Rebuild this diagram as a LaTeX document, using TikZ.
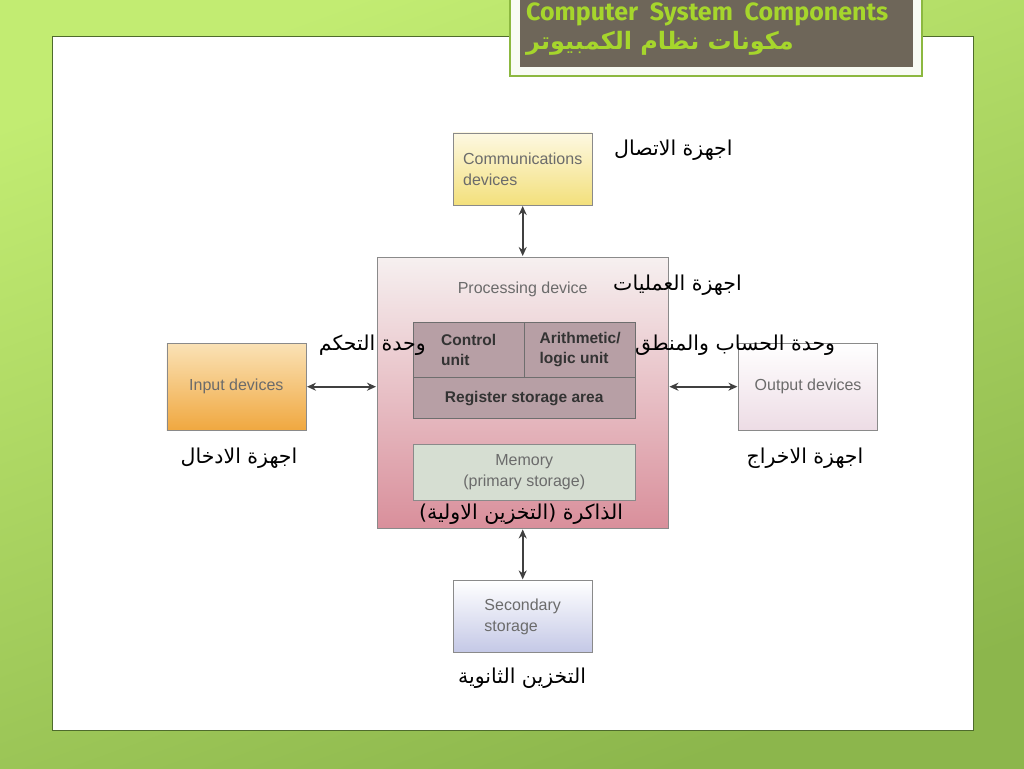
\documentclass[tikz,border=0pt]{standalone}
\usepackage{fontspec}
\setmainfont{Liberation Sans}
\newfontfamily\arabicfont[Script=Arabic]{DejaVu Sans}
\newfontfamily\titlefont{Fira Sans}
\TeXXeTstate=1
\usetikzlibrary{positioning,arrows.meta}
\definecolor{bggreenlight}{HTML}{C2EC72}
\definecolor{bggreendark}{HTML}{8CB64C}
\definecolor{panelline}{HTML}{4E6B2C}
\definecolor{titlebg}{HTML}{6E6659}
\definecolor{titletext}{HTML}{A6D62C}
\definecolor{titleframe}{HTML}{8CB840}
\definecolor{labelgray}{HTML}{6B6B6B}
\definecolor{boxline}{HTML}{8A8A8A}
\definecolor{mauve}{HTML}{B79FA5}
\definecolor{memfill}{HTML}{D6DED2}
\definecolor{commtop}{HTML}{FDF8E2}
\definecolor{commbottom}{HTML}{F3E07C}
\definecolor{intop}{HTML}{FAE2B6}
\definecolor{inbottom}{HTML}{F0A840}
\definecolor{outtop}{HTML}{FFFFFF}
\definecolor{outbottom}{HTML}{EDDCE5}
\definecolor{sectop}{HTML}{FFFFFF}
\definecolor{secbottom}{HTML}{C4C8E6}
\definecolor{proctop}{HTML}{F6F0F0}
\definecolor{procbottom}{HTML}{D98F9B}
\newcommand{\artext}[1]{{\arabicfont\beginR #1\endR}}
\tikzset{
  device/.style={draw=boxline,minimum width=139pt,minimum height=72pt,align=left,
    font=\fontsize{16}{21}\selectfont,text=labelgray,inner sep=0pt},
  unitbox/.style={draw=boxline!80!black,fill=mauve,align=left,
    font=\bfseries\fontsize{15.5}{20}\selectfont,text=black!80,inner sep=0pt},
  arlabel/.style={font=\fontsize{20.5}{24}\selectfont,inner sep=0pt},
  link/.style={{Stealth[length=9pt,width=8pt]}-{Stealth[length=9pt,width=8pt]},
    draw=black!75,line width=1.6pt,shorten >=1pt,shorten <=1pt}
}
\begin{document}
\begin{tikzpicture}[x=1pt,y=-1pt]
  \useasboundingbox (0,0) rectangle (1024,768);
  % slide background
  \shade[top color=bggreenlight,bottom color=bggreendark,shading angle=20] (0,0) rectangle (1024,768);
  \draw[panelline,fill=white,line width=1pt] (52,37) rectangle (973,730);
  % title
  \draw[titleframe,fill=white!94!titleframe,line width=1.2pt] (510,-2) rectangle (922,76);
  \fill[titlebg] (520,-2) rectangle (913,67);
  \node[anchor=west,inner sep=0pt,text=titletext,font=\titlefont\bfseries\fontsize{25}{27}\selectfont] (title) at (526,14) {Computer\ \ System\ \ Components};
  \node[anchor=west,inner sep=0pt,text=titletext,font=\arabicfont\bfseries\fontsize{24}{26}\selectfont] (titlear) at (526,43) {\artext{مكونات نظام الكمبيوتر}};
  % processing device
  \node[device,minimum width=291pt,minimum height=271pt,top color=proctop,bottom color=procbottom,anchor=north west] (proc) at (377,257) {};
  \node[below=25pt of proc.north,inner sep=0pt,text=labelgray,font=\fontsize{16}{20}\selectfont] (proctitle) {Processing device};
  \node[unitbox,minimum width=111pt,minimum height=55pt,anchor=north west] (cu) at (413,322) {Control\\unit};
  \node[unitbox,minimum width=111pt,minimum height=55pt,right=0pt of cu] (alu) {Arithmetic/\\logic unit};
  \node[unitbox,minimum width=222pt,minimum height=41pt,anchor=north west] (reg) at (cu.south west) {Register storage area};
  \node[device,fill=memfill,align=center,minimum width=222pt,minimum height=56pt,anchor=north west] (mem) at ([yshift=-25pt]reg.south west) {Memory\\(primary storage)};
  % devices around
  \node[device,top color=commtop,bottom color=commbottom,above=52pt of proc] (comm) {Communications\\devices};
  \node[device,top color=sectop,bottom color=secbottom,below=52pt of proc] (sec) {Secondary\\storage};
  \node[device,minimum height=87pt,top color=intop,bottom color=inbottom,left=71pt of proc,yshift=6pt] (inp) {Input devices};
  \node[device,minimum height=87pt,top color=outtop,bottom color=outbottom,right=70pt of proc,yshift=6pt] (out) {Output devices};
  \draw[link] (comm) -- (proc);
  \draw[link] (proc) -- (sec);
  \draw[link] (inp.east) -- (inp.east -| proc.west);
  \draw[link] (out.west) -- (out.west -| proc.east);
  % arabic labels
  \node[arlabel,anchor=west] (commlbl) at (614,150) {\artext{اجهزة الاتصال}};
  \node[arlabel,anchor=west] (proclbl) at (613,285) {\artext{اجهزة العمليات}};
  \node[arlabel,anchor=east] (culbl) at (426,345) {\artext{وحدة التحكم}};
  \node[arlabel,anchor=west] (alulbl) at (635,345) {\artext{وحدة الحساب والمنطق}};
  \node[arlabel] (inlbl) at (239,458) {\artext{اجهزة الادخال}};
  \node[arlabel] (outlbl) at (805,458) {\artext{اجهزة الاخراج}};
  \node[arlabel] (memlbl) at (521,514) {\artext{الذاكرة (التخزين الاولية)}};
  \node[arlabel] (seclbl) at (522,678) {\artext{التخزين الثانوية}};
\end{tikzpicture}
\end{document}
